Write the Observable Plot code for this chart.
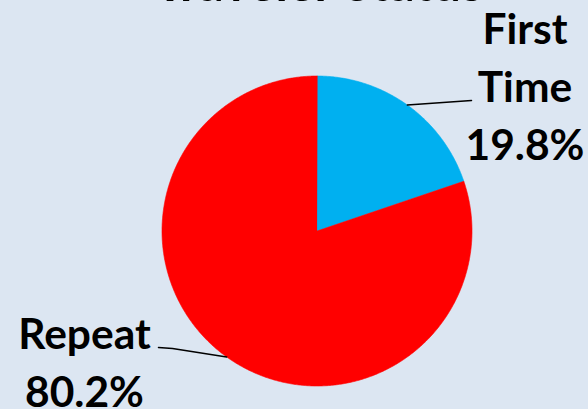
<!DOCTYPE html>
<html><head><meta charset="utf-8">
<script src="https://cdn.jsdelivr.net/npm/d3@7"></script>
<script src="https://cdn.jsdelivr.net/npm/@observablehq/plot@0.6"></script>
<style>html,body{margin:0;padding:0;background:#dce6f2;overflow:hidden}</style>
</head><body><div id="chart"></div>
<script>
// ---- data ----
const title = "Traveler Status";
const categories = ["First Time", "Repeat"];
const shares = [19.8, 80.2];
const colors = ["#00b0f0", "#ff0000"];

// ---- layout (pixels) ----
const W = 588, H = 409, CX = 316.5, CY = 230.5, R = 155;
const px = (x) => (x - CX) / R;   // pixel -> data units
const py = (y) => (CY - y) / R;
const labelAt = [[524.5, 159], [84, 406]];          // last-line baseline of each label
const leaderPath = [[[471, 100]], [[172, 348], [158, 347]]];

const arcs = d3.pie().sort(null)(shares);

// pie slices as polygons
const slicePts = [];
arcs.forEach((a, i) => {
  slicePts.push({cat: categories[i], x: 0, y: 0});
  const n = Math.max(2, Math.ceil((a.endAngle - a.startAngle) / (Math.PI / 360)));
  for (let k = 0; k <= n; k++) {
    const t = a.startAngle + (a.endAngle - a.startAngle) * k / n;
    slicePts.push({cat: categories[i], x: Math.sin(t), y: Math.cos(t)});
  }
});

// leader lines
const leaderPts = [];
arcs.forEach((a, i) => {
  const m = (a.startAngle + a.endAngle) / 2;
  leaderPts.push({cat: categories[i], x: Math.sin(m), y: Math.cos(m)});
  leaderPath[i].forEach(([x, y]) => leaderPts.push({cat: categories[i], x: px(x), y: py(y)}));
});

const labels = categories.map((c, i) => ({
  text: `${c.replace(" ", "\n")}\n${shares[i].toFixed(1)}%`,
  x: px(labelAt[i][0]), y: py(labelAt[i][1])
}));

const chart = Plot.plot({
  width: W, height: H,
  margin: 0,
  style: {background: "#dce6f2", overflow: "visible"},
  x: {domain: [px(0), px(W)], range: [0, W], axis: null},
  y: {domain: [py(H), py(0)], range: [H, 0], axis: null},
  color: {domain: categories, range: colors},
  marks: [
    Plot.line(slicePts, {x: "x", y: "y", z: "cat", fill: "cat", stroke: "cat", strokeWidth: 0.6, curve: "linear-closed"}),
    Plot.line(leaderPts, {x: "x", y: "y", z: "cat", stroke: "black", strokeWidth: 1.5}),
    Plot.text(labels, {x: "x", y: "y", text: "text", fontSize: 42.5, fontWeight: "bold", fontFamily: "Lato", lineAnchor: "bottom", lineHeight: 58 / 42.5, fill: "black", textAnchor: "middle"}),
    Plot.text([title], {x: px(318.5), y: py(0), text: d => d, fontSize: 50, fontWeight: "bold", fontFamily: "Lato", lineAnchor: "bottom", fill: "black"})
  ]
});
document.getElementById("chart").appendChild(chart);
</script>
</body></html>
